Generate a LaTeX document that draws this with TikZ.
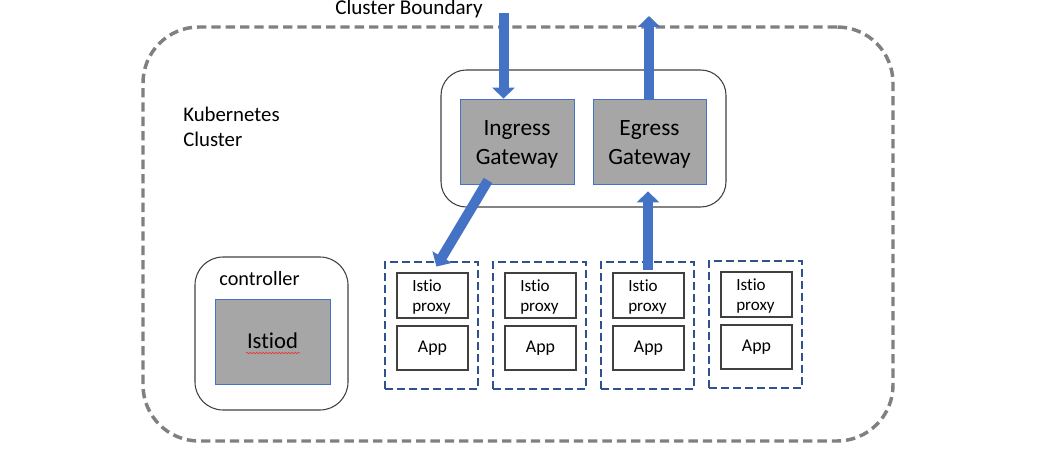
\documentclass[tikz,border=0pt]{standalone}
\usepackage{fontspec}
\setmainfont{Carlito}[Ligatures=NoCommon]
\usetikzlibrary{arrows.meta,fit,decorations.pathmorphing}
\definecolor{arrowblue}{RGB}{68,114,196}
\definecolor{podblue}{RGB}{47,82,143}
\definecolor{boundgray}{RGB}{128,128,128}
\definecolor{boxgray}{RGB}{166,166,166}
\definecolor{linegray}{RGB}{64,64,64}
\definecolor{squigred}{RGB}{230,60,60}
\begin{document}
\begin{tikzpicture}[x=0.75pt,y=-0.75pt,
  boundary/.style={draw=boundgray, line width=2.6pt, dash pattern=on 7pt off 3.75pt, rounded corners=42pt, inner sep=0pt},
  container/.style={draw=linegray, line width=0.8pt, rounded corners=19pt, inner sep=0pt},
  grayblock/.style={draw=arrowblue, fill=boxgray, line width=0.6pt, inner sep=0pt},
  pod/.style={draw=podblue, line width=2.2pt, dash pattern=on 6pt off 3pt, inner sep=0pt},
  subbox/.style={draw=linegray, line width=1.2pt, fill=white, inner sep=0pt},
  barrow/.style={draw=arrowblue, line width=7.5pt, -{Triangle[length=8.25pt,width=16.5pt]}},
  lbl/.style={inner sep=0pt, text=black}
]
\useasboundingbox (0,0) rectangle (1063,449);

% cluster boundary
\node[boundary, fit={(143,27)(893,441)}] (cluster) {};
\node[lbl, font=\fontsize{15.8}{19}\selectfont, anchor=base] (cbtext) at (409,15) {Cluster Boundary};
\node[lbl, font=\fontsize{15.6}{18.75}\selectfont, align=left, anchor=west] (k8s) at (183,127) {Kubernetes\\Cluster};

% gateways
\node[container, fit={(441,70)(726,207)}] (gw) {};
\node[grayblock, fit={(460,99)(574,184)}] (ing) {};
\node[lbl, font=\fontsize{17.5}{21.75}\selectfont, align=center] (ingtext) at ([yshift=-2.5pt]ing.center) {Ingress\\Gateway};
\node[grayblock, fit={(593,99)(706,184)}] (eg) {};
\node[lbl, font=\fontsize{17.5}{21.75}\selectfont, align=center] (egtext) at ([yshift=-2.5pt]eg.center) {Egress\\Gateway};

% controller
\node[container, rounded corners=21pt, fit={(195,257)(348,410)}] (ctrl) {};
\node[lbl, font=\fontsize{15.2}{18}\selectfont, anchor=base] (ctrltext) at (259.5,285) {controller};
\node[grayblock, fit={(215,299)(330,384)}] (istiod) {};
\node[lbl, font=\fontsize{17}{20}\selectfont] (istiodtext) at ([yshift=0.75pt]istiod.center) {Istiod};
\draw[squigred, line width=0.5pt, decorate, decoration={snake, amplitude=0.6pt, segment length=2.4pt}] (246,353) -- (300,353);

% pods
\foreach \i/\x/\d in {1/385/0, 2/493/0, 3/601/0, 4/709/1} {
  \node[pod, fit={(\x,262-\d)(\x+93,389-\d)}] (pod\i) {};
  \node[subbox, fit={(\x+12,273-\d)(\x+83,318-\d)}] (proxy\i) {};
  \node[lbl, font=\fontsize{12.8}{15}\selectfont, align=left, anchor=west] (proxytext\i) at (\x+27,297-\d) {Istio\\proxy};
  \node[subbox, fit={(\x+12,326-\d)(\x+83,370-\d)}] (app\i) {};
  \node[lbl, font=\fontsize{13.4}{16}\selectfont] (apptext\i) at (app\i.center) {App};
}

% arrows
\coordinate (ingsrc) at (503.5,13);
\draw[barrow] (ingsrc) -- (ingsrc |- ing.north);
\coordinate (egdst) at (649,16);
\draw[barrow] (egdst |- eg.north) -- (egdst);
\draw[barrow] ([shift={(-29,-4)}]ing.south) -- ([shift={(-43,6)}]pod1.north east);
\draw[barrow] ([shift={(0.5,9)}]pod3.north) -- ([shift={(-1.5,7)}]eg.south);
\end{tikzpicture}
\end{document}
